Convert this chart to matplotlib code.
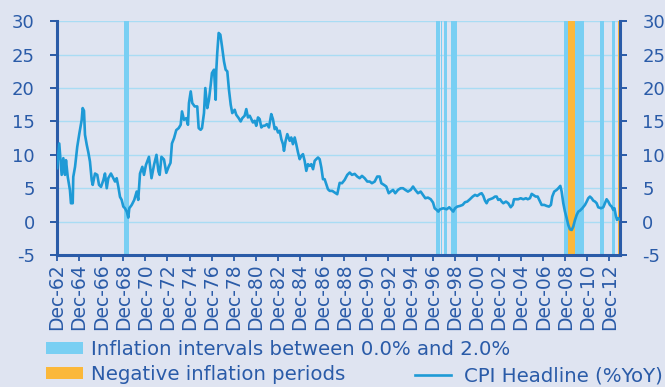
import matplotlib
matplotlib.use("Agg")
import matplotlib.pyplot as plt
from matplotlib.patches import Patch
from matplotlib.lines import Line2D

# CPI headline, % year on year (decimal year, value)
years = [
    1962.92, 1963.12, 1963.34, 1963.49, 1963.64, 1963.73, 1963.89, 1964.09, 1964.18, 1964.34,
    1964.39, 1964.55, 1964.75, 1964.94, 1965.15, 1965.24, 1965.36, 1965.45, 1965.61, 1965.75,
    1965.90, 1966.06, 1966.15, 1966.36, 1966.56, 1966.72, 1966.90, 1967.11, 1967.26, 1967.42,
    1967.56, 1967.80, 1968.01, 1968.17, 1968.32, 1968.47, 1968.62, 1968.77, 1968.92, 1969.07,
    1969.23, 1969.37, 1969.46, 1969.68, 1969.91, 1970.13, 1970.27, 1970.43, 1970.64, 1970.79,
    1970.97, 1971.24, 1971.47, 1971.70, 1971.92, 1972.10, 1972.21, 1972.37, 1972.60, 1972.81,
    1973.03, 1973.19, 1973.32, 1973.51, 1973.71, 1973.93, 1974.11, 1974.23, 1974.41, 1974.62,
    1974.77, 1974.86, 1975.02, 1975.16, 1975.38, 1975.61, 1975.74, 1975.92, 1976.04, 1976.22,
    1976.34, 1976.52, 1976.67, 1976.83, 1976.94, 1977.13, 1977.28, 1977.33, 1977.42, 1977.55,
    1977.70, 1977.85, 1978.03, 1978.18, 1978.33, 1978.48, 1978.64, 1978.78, 1979.00, 1979.14,
    1979.36, 1979.54, 1979.69, 1979.75, 1979.90, 1980.05, 1980.20, 1980.36, 1980.50, 1980.65,
    1980.81, 1980.95, 1981.11, 1981.26, 1981.41, 1981.56, 1981.71, 1981.92, 1982.10, 1982.31,
    1982.46, 1982.62, 1982.76, 1982.92, 1983.07, 1983.22, 1983.37, 1983.46, 1983.61, 1983.76,
    1983.98, 1984.12, 1984.27, 1984.43, 1984.57, 1984.73, 1984.88, 1985.03, 1985.18, 1985.33,
    1985.48, 1985.63, 1985.79, 1985.93, 1986.09, 1986.24, 1986.38, 1986.54, 1986.69, 1986.84,
    1986.99, 1987.14, 1987.29, 1987.44, 1987.60, 1987.83, 1988.05, 1988.28, 1988.50, 1988.71,
    1988.95, 1989.19, 1989.41, 1989.61, 1989.86, 1990.09, 1990.31, 1990.52, 1990.76, 1991.00,
    1991.22, 1991.42, 1991.67, 1991.90, 1992.12, 1992.27, 1992.51, 1992.72, 1992.94, 1993.12,
    1993.33, 1993.53, 1993.78, 1994.02, 1994.23, 1994.44, 1994.68, 1994.93, 1995.14, 1995.34,
    1995.59, 1995.83, 1996.04, 1996.25, 1996.49, 1996.74, 1996.95, 1997.10, 1997.28, 1997.43,
    1997.58, 1997.88, 1998.19, 1998.42, 1998.64, 1998.78, 1998.94, 1999.14, 1999.39, 1999.63,
    1999.84, 2000.05, 2000.29, 2000.54, 2000.75, 2000.95, 2001.20, 2001.35, 2001.50, 2001.65,
    2001.80, 2001.95, 2002.10, 2002.35, 2002.56, 2002.71, 2002.85, 2003.01, 2003.16, 2003.31,
    2003.55, 2003.76, 2003.98, 2004.16, 2004.28, 2004.46, 2004.66, 2004.88, 2005.12, 2005.36,
    2005.52, 2005.72, 2005.88, 2006.02, 2006.24, 2006.42, 2006.63, 2006.78, 2007.02, 2007.23,
    2007.44, 2007.62, 2007.74, 2007.92, 2008.14, 2008.29, 2008.47, 2008.59, 2008.74, 2008.89,
    2009.05, 2009.19, 2009.34, 2009.50, 2009.64, 2009.80, 2009.95, 2010.10, 2010.25, 2010.46,
    2010.70, 2010.86, 2011.00, 2011.15, 2011.31, 2011.45, 2011.61, 2011.76, 2011.90, 2012.15,
    2012.36, 2012.51, 2012.66, 2012.81, 2012.96, 2013.12, 2013.26, 2013.37, 2013.48, 2013.60,
    2013.72, 2013.82,
]
cpi = [
    8.0, 11.7, 7.0, 9.5, 7.0, 9.2, 6.7, 4.7, 2.75, 2.75,
    6.7, 8.2, 11.2, 13.2, 15.2, 17.0, 16.6, 13.0, 11.5, 10.4,
    9.0, 6.2, 5.5, 7.2, 7.0, 5.5, 5.2, 6.2, 7.2, 5.0,
    6.5, 7.2, 6.5, 6.0, 6.5, 5.2, 3.7, 3.25, 2.25, 2.0,
    1.5, 0.6, 2.0, 2.5, 3.25, 4.5, 3.25, 7.2, 8.2, 7.0,
    8.5, 9.7, 6.5, 8.5, 10.0, 7.5, 7.0, 9.7, 9.3, 7.3,
    8.25, 8.8, 11.7, 12.5, 13.7, 14.0, 14.5, 16.5, 15.25, 15.5,
    14.5, 17.75, 19.5, 17.75, 17.25, 17.25, 14.0, 13.75, 14.0, 16.25,
    20.0, 17.0, 18.25, 20.5, 22.25, 22.75, 18.25, 22.5, 25.25, 28.25,
    28.0, 26.25, 24.0, 22.75, 22.5, 19.75, 17.5, 16.25, 16.75, 16.0,
    15.5, 15.0, 15.5, 15.6, 15.85, 16.85, 15.6, 15.85, 15.35, 14.85,
    15.1, 14.35, 15.6, 15.35, 14.1, 14.35, 14.35, 14.6, 14.1, 16.1,
    15.35, 13.85, 14.1, 13.35, 13.6, 12.35, 11.6, 10.6, 12.1, 13.1,
    12.1, 12.6, 11.6, 12.6, 11.6, 10.35, 9.35, 9.85, 10.1, 9.1,
    7.6, 8.6, 8.35, 8.6, 7.85, 9.1, 9.35, 9.6, 9.35, 8.1,
    6.35, 6.35, 5.6, 4.85, 4.6, 4.6, 4.35, 4.1, 5.8, 5.75,
    6.25, 7.0, 7.35, 7.0, 7.15, 6.75, 6.5, 6.85, 6.5, 6.0,
    6.0, 5.75, 6.0, 6.75, 6.75, 5.75, 5.5, 5.25, 4.25, 4.5,
    4.75, 4.25, 4.75, 5.0, 5.0, 4.75, 4.5, 4.75, 5.25, 4.75,
    4.25, 4.5, 4.0, 3.5, 3.6, 3.35, 2.85, 2.0, 1.75, 1.5,
    1.85, 2.0, 1.85, 2.15, 1.75, 1.5, 2.0, 2.25, 2.35, 2.5,
    2.9, 3.0, 3.35, 3.75, 4.0, 3.85, 4.15, 4.25, 3.85, 3.15,
    2.75, 3.25, 3.35, 3.5, 3.75, 3.75, 3.25, 3.35, 3.0, 2.75,
    3.0, 2.75, 2.15, 2.5, 3.35, 3.35, 3.35, 3.5, 3.35, 3.5,
    3.35, 3.5, 4.15, 4.0, 3.75, 3.75, 3.0, 2.5, 2.5, 2.35,
    2.25, 2.5, 3.75, 4.5, 4.75, 5.0, 5.35, 4.5, 2.75, 1.5,
    0.5, -0.5, -1.15, -1.25, -0.75, 0.25, 1.0, 1.5, 1.65, 2.0,
    2.5, 3.0, 3.5, 3.75, 3.5, 3.15, 3.0, 2.75, 2.15, 2.0,
    2.15, 2.75, 3.35, 3.0, 2.5, 2.25, 1.75, 2.0, 1.0, 0.25,
    0.5, 0.35,
]

# periods with inflation between 0% and 2% (start, end)
low_periods = [
    (1968.98, 1969.43), (1997.19, 1997.58), (1997.64, 1997.79), (1997.97, 1998.21),
    (1998.55, 1999.09), (2008.83, 2009.13), (2009.80, 2010.61), (2012.08, 2012.39),
    (2013.17, 2013.42),
]
# periods with negative inflation
neg_periods = [(2009.13, 2009.80), (2013.66, 2013.82)]

tick_years = list(range(1962, 2013, 2))
tick_labels = [f"Dec-{y % 100:02d}" for y in tick_years]

bg = "#dfe4f1"
navy = "#2a5ba8"
line_blue = "#1e9ad6"
band_blue = "#79cff3"
band_orange = "#fbb83a"
grid_blue = "#a9dcf4"

plt.rcParams["font.family"] = "DejaVu Sans"
plt.rcParams["axes.unicode_minus"] = False

fig = plt.figure(figsize=(6.65, 3.87), dpi=100, facecolor=bg)
ax = fig.add_axes([0.0857, 0.3411, 0.8466, 0.6039], facecolor=bg)

for start, end in low_periods:
    ax.axvspan(start, end, color=band_blue, lw=0, zorder=1)
for start, end in neg_periods:
    ax.axvspan(start, end, color=band_orange, lw=0, zorder=1)

ax.plot(years, cpi, color=line_blue, lw=1.9, zorder=3)

ax.set_ylim(-5, 30)
ax.set_xlim(1962.917, 2013.87)
ax.set_yticks(range(-5, 31, 5))
ax.yaxis.grid(True, color=grid_blue, lw=1.0, zorder=0)
ax.set_axisbelow(True)

ax.set_xticks([y + 11 / 12 for y in tick_years])
ax.set_xticklabels(tick_labels, rotation=90)

for side in ("left", "bottom", "right"):
    ax.spines[side].set_color(navy)
    ax.spines[side].set_linewidth(2.2)
ax.spines["top"].set_visible(False)

ax.tick_params(axis="y", left=True, right=True, labelleft=True, labelright=True,
               colors=navy, labelsize=13, length=5, width=1.4, pad=11)
ax.tick_params(axis="x", colors=navy, labelsize=13.5, length=4, width=1.3, pad=2)

band_handles = [Patch(facecolor=band_blue, edgecolor="none"),
                Patch(facecolor=band_orange, edgecolor="none")]
band_labels = ["Inflation intervals between 0.0% and 2.0%", "Negative inflation periods"]
fig.legend(band_handles, band_labels, loc="upper left",
           bbox_to_anchor=(46 / 665, 1 - 340 / 387), frameon=False,
           fontsize=14.2, labelcolor=navy, borderpad=0, borderaxespad=0,
           handlelength=1.9, handleheight=0.6, handletextpad=0.4,
           labelspacing=0.3)
fig.legend([Line2D([], [], color=line_blue, lw=1.9)], ["CPI Headline (%YoY)"],
           loc="center left", bbox_to_anchor=(415 / 665, 1 - 376 / 387),
           frameon=False, fontsize=14.2, labelcolor=navy, borderpad=0,
           borderaxespad=0, handlelength=1.85, handletextpad=0.65)

fig.savefig("out.png", dpi=100, facecolor=bg)
